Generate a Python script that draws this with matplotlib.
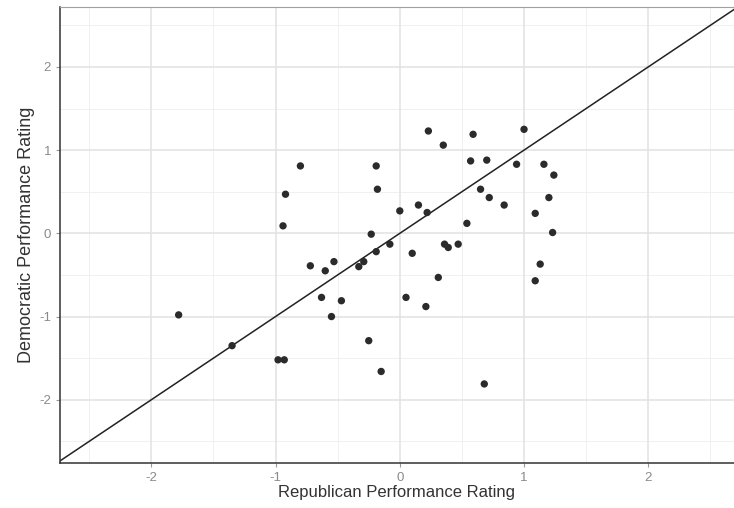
import matplotlib.pyplot as plt
import numpy as np

# Republican vs Democratic performance ratings (one point per state)
rep = [-1.78, -1.35, -0.98, -0.93, -0.80, -0.92, -0.94, -0.72, -0.60, -0.53,
       -0.63, -0.47, -0.55, -0.33, -0.29, -0.25, -0.15, -0.19, -0.18, -0.23,
       0.23, 0.35, 0.59, 1.00, 0.57, 0.70, 0.94, 1.16, 1.24, 0.65,
       0.72, 0.84, 1.20, 1.09, 1.23, 0.00, 0.15, 0.22, 0.54, -0.08,
       -0.19, 0.10, 0.36, 0.39, 0.47, 1.13, 1.09, 0.31, 0.05, 0.21, 0.68]
dem = [-0.98, -1.35, -1.52, -1.52, 0.81, 0.47, 0.09, -0.39, -0.45, -0.34,
       -0.77, -0.81, -1.00, -0.40, -0.34, -1.29, -1.66, 0.81, 0.53, -0.01,
       1.23, 1.06, 1.19, 1.25, 0.87, 0.88, 0.83, 0.83, 0.70, 0.53,
       0.43, 0.34, 0.43, 0.24, 0.01, 0.27, 0.34, 0.25, 0.12, -0.13,
       -0.22, -0.24, -0.13, -0.17, -0.13, -0.37, -0.57, -0.53, -0.77, -0.88, -1.81]

ticks = [-2, -1, 0, 1, 2]
minor = [-2.5, -1.5, -0.5, 0.5, 1.5, 2.5]

plt.rcParams['font.family'] = ['Liberation Sans', 'DejaVu Sans']
plt.rcParams['axes.unicode_minus'] = False

fig = plt.figure(figsize=(7.34, 5.08), dpi=100)
ax = fig.add_axes([60 / 734, 45 / 508, 674 / 734, 456 / 508])

xmin, xmax = -2.735, 2.69
ymin, ymax = -2.76, 2.72
ax.set_xlim(xmin, xmax)
ax.set_ylim(ymin, ymax)

# grid like ggplot theme_bw
for v in minor:
    ax.axvline(v, color='#f0f0f0', lw=0.7, zorder=0)
    ax.axhline(v, color='#f0f0f0', lw=0.7, zorder=0)
for v in ticks:
    ax.axvline(v, color='#e2e2e2', lw=1.1, zorder=0)
    ax.axhline(v, color='#e2e2e2', lw=1.1, zorder=0)

# y = x reference line
ax.plot([-3, 3], [-3, 3], color='#222222', lw=1.1, zorder=2)
ax.scatter(rep, dem, s=28, color='#2b2b2b', edgecolors='none', zorder=3)

ax.set_xticks(ticks)
ax.set_yticks(ticks)
ax.tick_params(axis='both', colors='#9a9a9a', labelcolor='#8a8a8a',
               labelsize=9.5, length=3, width=0.8)

ax.spines['left'].set_color('#333333')
ax.spines['bottom'].set_color('#333333')
ax.spines['left'].set_linewidth(1.1)
ax.spines['bottom'].set_linewidth(1.1)
ax.spines['top'].set_color('#a0a0a0')
ax.spines['right'].set_visible(False)

ax.set_xlabel('Republican Performance Rating', fontsize=12, color='#333333', labelpad=1)
ax.set_ylabel('Democratic Performance Rating', fontsize=13, color='#333333', labelpad=3)

fig.savefig('out.png', dpi=100)
